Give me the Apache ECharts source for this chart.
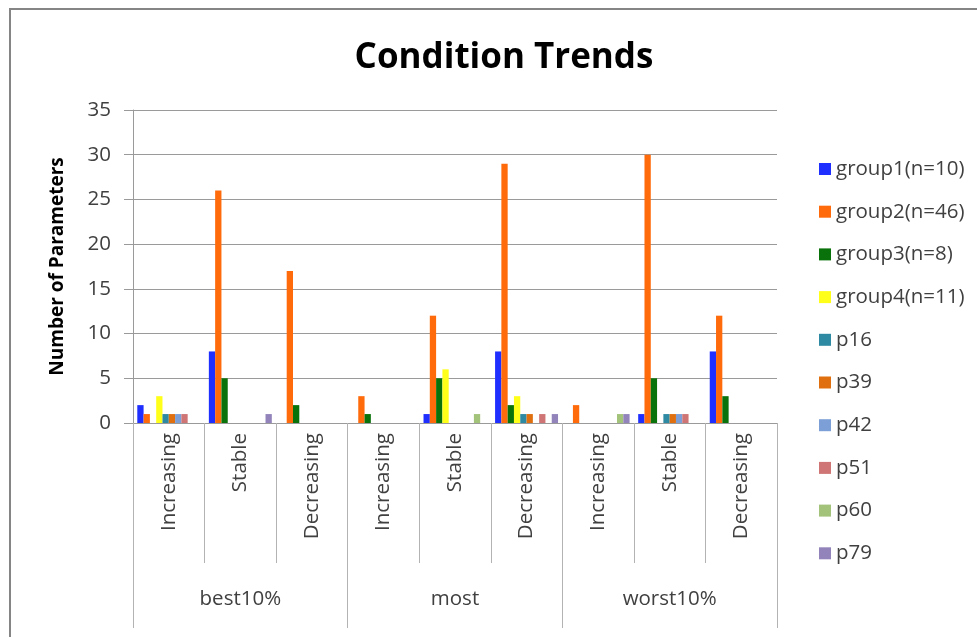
<!DOCTYPE html>
<html>
<head>
<meta charset="utf-8">
<title>Condition Trends</title>
<script src="https://cdn.jsdelivr.net/npm/echarts@6/dist/echarts.min.js"></script>
<style>
  html, body { margin: 0; padding: 0; background: #ffffff; }
  #chart { width: 977px; height: 637px; }
</style>
</head>
<body>
<div id="chart"></div>
<script>
// Two-level category axis: trend within each condition group
const trends = ['Increasing', 'Stable', 'Decreasing', 'Increasing', 'Stable', 'Decreasing', 'Increasing', 'Stable', 'Decreasing'];
const groups = ['best10%', 'most', 'worst10%'];
const yTicks = [0, 5, 10, 15, 20, 25, 30, 35];

// Number of parameters per series, one value per trend column
const group1 = [2, 8, 0, 0, 1, 8, 0, 1, 8];
const group2 = [1, 26, 17, 3, 12, 29, 2, 30, 12];
const group3 = [0, 5, 2, 1, 5, 2, 0, 5, 3];
const group4 = [3, 0, 0, 0, 6, 3, 0, 0, 0];
const p16 = [1, 0, 0, 0, 0, 1, 0, 1, 0];
const p39 = [1, 0, 0, 0, 0, 1, 0, 1, 0];
const p42 = [1, 0, 0, 0, 0, 0, 0, 1, 0];
const p51 = [1, 0, 0, 0, 0, 1, 0, 1, 0];
const p60 = [0, 0, 0, 0, 1, 0, 1, 0, 0];
const p79 = [0, 1, 0, 0, 0, 1, 1, 0, 0];

const seriesNames = ['group1(n=10)', 'group2(n=46)', 'group3(n=8)', 'group4(n=11)', 'p16', 'p39', 'p42', 'p51', 'p60', 'p79'];
const seriesValues = [group1, group2, group3, group4, p16, p39, p42, p51, p60, p79];
const seriesColors = ['#1f2fff', '#ff6a0a', '#0a720a', '#ffff1a', '#2e8aa3', '#e0700f', '#7b9fd6', '#d07575', '#a3c27a', '#9284bb'];

const FONT = 'Open Sans';
const TEXT = '#404040';
const LABEL_SIZE = 20.5;

const chart = echarts.init(document.getElementById('chart'), null, { renderer: 'canvas' });

chart.setOption({
  animation: false,
  backgroundColor: '#ffffff',
  textStyle: { fontFamily: FONT },
  graphic: [{
    type: 'rect',
    shape: { x: 10, y: 9, width: 1100, height: 800 },
    style: { fill: 'none', stroke: '#858585', lineWidth: 2 },
    silent: true
  }],
  title: {
    text: 'Condition Trends',
    left: 499,
    textAlign: 'center',
    top: 36,
    textStyle: { fontFamily: FONT, fontSize: 35, fontWeight: 'bold', color: '#000000' }
  },
  legend: {
    orient: 'vertical',
    left: 814,
    top: 153,
    itemWidth: 12,
    itemHeight: 12,
    itemGap: 20.7,
    icon: 'rect',
    textStyle: { fontFamily: FONT, fontSize: LABEL_SIZE, color: TEXT, lineHeight: 22 },
    data: seriesNames
  },
  grid: { left: 133, top: 110, width: 644, height: 313, containLabel: false },
  xAxis: [{
    type: 'category',
    data: trends,
    position: 'bottom',
    axisLine: { show: true, lineStyle: { color: '#9a9a9a', width: 1 } },
    axisTick: { show: true, length: 140, lineStyle: { color: '#b3b3b3', width: 1 } },
    axisLabel: { rotate: 90, margin: 10, fontFamily: FONT, fontSize: LABEL_SIZE, color: TEXT },
    splitLine: { show: false }
  }, {
    type: 'category',
    data: groups,
    position: 'bottom',
    axisLine: { show: false },
    axisTick: { show: true, length: 205, lineStyle: { color: '#b3b3b3', width: 1 } },
    axisLabel: { margin: 166, fontFamily: FONT, fontSize: LABEL_SIZE, color: TEXT },
    splitLine: { show: false }
  }],
  yAxis: {
    type: 'value',
    min: yTicks[0],
    max: yTicks[yTicks.length - 1],
    interval: yTicks[1] - yTicks[0],
    axisLine: { show: true, lineStyle: { color: '#9a9a9a' } },
    axisTick: { show: true, length: 9, lineStyle: { color: '#9a9a9a' } },
    axisLabel: { margin: 22, fontFamily: FONT, fontSize: LABEL_SIZE, color: TEXT },
    splitLine: { show: true, lineStyle: { color: '#9a9a9a', width: 1 } },
    name: 'Number of Parameters',
    nameLocation: 'middle',
    nameGap: 66,
    nameRotate: 90,
    nameTextStyle: { fontFamily: FONT, fontSize: 19, fontWeight: 'bold', color: '#000000' }
  },
  series: seriesNames.map((name, i) => ({
    name: name,
    type: 'bar',
    xAxisIndex: 0,
    data: seriesValues[i],
    barGap: '0%',
    barCategoryGap: '12%',
    itemStyle: { color: seriesColors[i] }
  }))
});
</script>
</body>
</html>
